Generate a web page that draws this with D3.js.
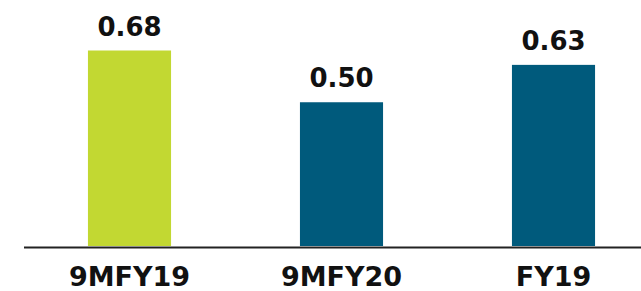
<!DOCTYPE html>
<html>
<head>
<meta charset="utf-8">
<script src="https://cdn.jsdelivr.net/npm/d3@7"></script>
<style>
  body { margin: 0; background: #fff; }
  text { font-family: "DejaVu Sans", sans-serif; font-weight: bold; fill: #111; }
</style>
</head>
<body>
<script>
const categories = ["9MFY19", "9MFY20", "FY19"];
const values = [0.68, 0.50, 0.63];
const barColors = ["#c2d832", "#005a7c", "#005a7c"];

const width = 641, height = 291;
const baseline = 246;

const x = d3.scaleBand()
  .domain(categories)
  .range([23.5, 659.5])
  .paddingInner(0.608)
  .paddingOuter(0.304);

const y = d3.scaleLinear()
  .domain([0, 0.68])
  .range([baseline, 50.5]);

const svg = d3.select("body")
  .append("svg")
  .attr("width", width)
  .attr("height", height);

svg.selectAll(".bar")
  .data(values)
  .enter()
  .append("rect")
  .attr("class", "bar")
  .attr("x", (d, i) => x(categories[i]))
  .attr("y", d => y(d))
  .attr("width", x.bandwidth())
  .attr("height", d => y(0) - y(d))
  .style("fill", (d, i) => barColors[i]);

svg.selectAll(".value")
  .data(values)
  .enter()
  .append("text")
  .attr("class", "value")
  .attr("x", (d, i) => x(categories[i]) + x.bandwidth() / 2)
  .attr("y", d => y(d) - 15)
  .attr("text-anchor", "middle")
  .style("font-size", "26px")
  .text(d => d3.format(".2f")(d));

const xAxis = d3.axisBottom(x).tickSize(0).tickSizeOuter(0);

const axis = svg.append("g")
  .attr("class", "x axis")
  .attr("transform", `translate(0, ${baseline + 1})`)
  .call(xAxis);

axis.select(".domain")
  .attr("stroke", "#222")
  .attr("stroke-width", 2);

axis.selectAll("text")
  .attr("y", 39)
  .attr("dy", 0)
  .style("font-size", "27px")
  .style("font-family", "DejaVu Sans, sans-serif")
  .style("font-weight", "bold")
  .attr("fill", "#111");
</script>
</body>
</html>
